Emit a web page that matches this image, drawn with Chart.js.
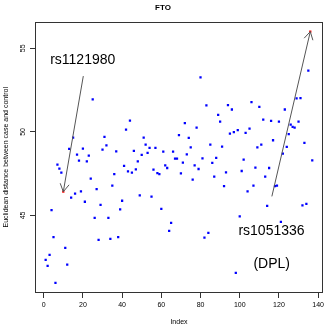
<!DOCTYPE html>
<html>
<head>
<meta charset="utf-8">
<script src="https://cdn.jsdelivr.net/npm/chart.js@4"></script>
<style>
  body { margin: 0; background: #fff; }
</style>
</head>
<body>
<canvas id="ftoChart" width="327" height="327"></canvas>
<script>
// Euclidean distance between case and control, one value per index (1..137)
const distance = [
  42.34, 41.98, 42.64, 45.32, 43.70, 40.96, 48.04, 47.80, 47.56, 46.42,
  43.06, 42.06, 48.98, 46.06, 49.66, 46.30, 48.64, 48.28, 46.44, 49.00,
  45.82, 48.24, 48.58, 47.20, 51.94, 44.86, 46.58, 43.54, 45.64, 48.94,
  49.70, 49.20, 44.86, 43.60, 46.78, 47.48, 48.84, 43.70, 45.36, 45.88,
  47.96, 50.14, 47.64, 50.68, 47.56, 48.86, 47.76, 48.24, 46.20, 48.62,
  49.66, 49.24, 48.74, 49.04, 46.12, 47.74, 49.04, 47.54, 47.48, 45.40,
  48.82, 48.00, 47.84, 44.08, 44.56, 48.82, 48.40, 48.40, 49.80, 47.52,
  48.16, 50.52, 48.66, 49.64, 49.08, 47.14, 48.00, 50.26, 47.78, 53.26,
  48.42, 43.68, 51.58, 43.96, 49.24, 48.14, 47.32, 48.44, 51.02, 50.62,
  49.12, 46.76, 47.58, 51.60, 49.90, 51.34, 49.98, 41.56, 50.10, 44.94,
  47.66, 48.34, 49.94, 46.44, 50.20, 51.78, 46.78, 47.86, 49.08, 51.50,
  49.24, 50.74, 47.32, 45.58, 47.84, 50.66, 49.50, 46.76, 46.78, 50.62,
  44.62, 48.70, 51.34, 49.10, 49.86, 50.44, 50.30, 50.26, 52.00, 50.62,
  52.02, 45.60, 49.34, 45.70, 53.66, 56.00, 48.30,
];
const index = distance.map((_, i) => i + 1);

// the two SNPs marked in red
const highlighted = [10, 136];

const xTicks = [0, 20, 40, 60, 80, 100, 120, 140];
const yTicks = [45, 50, 55];

// annotation texts and arrows (data coordinates)
const notes = [
  { text: "rs1121980", x: 19.9, y: 54.3 },
  { text: "rs1051336", x: 116.2, y: 44.06 },
  { text: "(DPL)", x: 116.3, y: 42.1 },
];
const arrows = [
  { x0: 20.2, y0: 53.34, target: 10 },
  { x0: 116.4, y0: 46.14, target: 136 },
];

const FONT = "'Liberation Sans', Arial, Helvetica, sans-serif";

const points = index.map((x, i) => ({ x: x, y: distance[i] }));
const colors = index.map((x) => (highlighted.includes(x) ? "#ff0000" : "#0000ff"));

// R style box around the plot + arrows and labels
const rExtras = {
  id: "rExtras",
  afterDatasetsDraw(chart) {
    const { ctx, chartArea: a, scales } = chart;
    const sx = scales.x, sy = scales.y;
    ctx.save();
    ctx.strokeStyle = "#333";
    ctx.lineWidth = 1;
    ctx.strokeRect(Math.round(a.left) + 0.5, Math.round(a.top) + 0.5,
      Math.round(a.right - a.left) - 1, Math.round(a.bottom - a.top) - 1);

    ctx.strokeStyle = "#555";
    arrows.forEach((ar) => {
      const x0 = sx.getPixelForValue(ar.x0), y0 = sy.getPixelForValue(ar.y0);
      const x1 = sx.getPixelForValue(ar.target);
      const y1 = sy.getPixelForValue(distance[ar.target - 1]);
      const ang = Math.atan2(y1 - y0, x1 - x0);
      const len = 9, spread = Math.PI / 6;
      ctx.beginPath();
      ctx.moveTo(x0, y0);
      ctx.lineTo(x1, y1);
      ctx.moveTo(x1 - len * Math.cos(ang - spread), y1 - len * Math.sin(ang - spread));
      ctx.lineTo(x1, y1);
      ctx.lineTo(x1 - len * Math.cos(ang + spread), y1 - len * Math.sin(ang + spread));
      ctx.stroke();
    });

    ctx.fillStyle = "#000";
    ctx.font = "14px " + FONT;
    ctx.textAlign = "center";
    ctx.textBaseline = "middle";
    notes.forEach((n) => {
      ctx.fillText(n.text, sx.getPixelForValue(n.x), sy.getPixelForValue(n.y));
    });
    ctx.restore();
  },
};

new Chart(document.getElementById("ftoChart"), {
  type: "scatter",
  data: {
    datasets: [
      {
        data: points,
        pointStyle: "rect",
        pointRadius: 1.6,
        pointBorderWidth: 0,
        pointBackgroundColor: colors,
        pointHoverRadius: 1.6,
      },
    ],
  },
  options: {
    responsive: false,
    animation: false,
    devicePixelRatio: 1,
    layout: { padding: { right: 1 } },
    plugins: {
      legend: { display: false },
      tooltip: { enabled: false },
      title: {
        display: true,
        text: "FTO",
        color: "#000",
        font: { family: FONT, size: 8, weight: "bold" },
        padding: { top: 3, bottom: 9 },
      },
    },
    scales: {
      x: {
        type: "linear",
        min: -4.44,
        max: 142.44,
        afterBuildTicks: (s) => { s.ticks = xTicks.map((v) => ({ value: v })); },
        afterFit: (s) => { s.height = 34; },
        ticks: {
          autoSkip: false,
          maxRotation: 0,
          padding: 3,
          color: "#000",
          font: { family: FONT, size: 7 },
        },
        grid: { drawOnChartArea: false, drawTicks: true, tickLength: 5, color: "#333" },
        border: { display: false },
        title: {
          display: true,
          text: "Index",
          color: "#000",
          font: { family: FONT, size: 7 },
          padding: { top: 0, bottom: 1 },
        },
      },
      y: {
        type: "linear",
        min: 40.36,
        max: 56.6,
        afterBuildTicks: (s) => { s.ticks = yTicks.map((v) => ({ value: v })); },
        afterFit: (s) => { s.width = 35; },
        ticks: {
          minRotation: 90,
          maxRotation: 90,
          crossAlign: "center",
          padding: 3,
          color: "#000",
          font: { family: FONT, size: 7 },
        },
        grid: { drawOnChartArea: false, drawTicks: true, tickLength: 5, color: "#333" },
        border: { display: false },
        title: {
          display: true,
          text: "Euclidean distance between case and control",
          color: "#000",
          font: { family: FONT, size: 7 },
          padding: { top: 2, bottom: 0 },
        },
      },
    },
  },
  plugins: [rExtras],
});
</script>
</body>
</html>
